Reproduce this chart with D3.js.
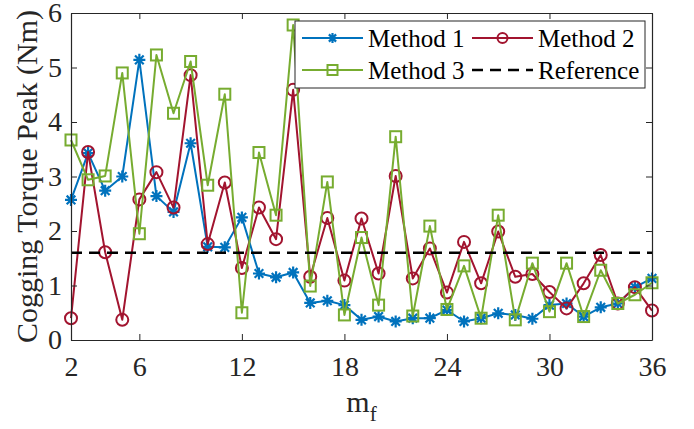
<!DOCTYPE html>
<html>
<head>
<meta charset="utf-8">
<script src="https://cdn.jsdelivr.net/npm/d3@7"></script>
<style>
  html, body { margin: 0; padding: 0; background: #fff; }
  svg { display: block; font-family: "Liberation Serif", "Times New Roman", serif; }
</style>
</head>
<body>
<svg id="chart" width="694" height="429"></svg>
<script>
// Slot/pole combination index
const mf = [2,3,4,5,6,7,8,9,10,11,12,13,14,15,16,17,18,19,20,21,22,23,24,25,26,27,28,29,30,31,32,33,34,35,36];

// Cogging torque peak (Nm) for each method
const method1 = [2.57,3.43,2.74,3.00,5.14,2.64,2.35,3.61,1.71,1.70,2.25,1.22,1.15,1.24,0.68,0.72,0.64,0.37,0.43,0.34,0.40,0.40,0.55,0.34,0.40,0.49,0.46,0.39,0.64,0.67,0.43,0.60,0.67,0.97,1.13];
const method2 = [0.40,3.45,1.61,0.37,2.58,3.08,2.43,4.86,1.76,2.89,1.32,2.43,1.85,4.59,1.16,2.24,1.09,2.23,1.22,3.01,1.13,1.68,0.87,1.80,1.04,1.99,1.16,1.21,0.88,0.58,1.04,1.56,0.67,0.97,0.54];
const method3 = [3.67,2.94,3.01,4.90,1.95,5.23,4.16,5.11,2.84,4.51,0.50,3.44,2.29,5.78,0.99,2.90,0.46,1.88,0.64,3.73,0.44,2.09,0.56,1.36,0.40,2.29,0.37,1.41,0.52,1.41,0.43,1.28,0.67,0.83,1.05];
const referenceLevel = 1.6;

const xTicks = [2,6,12,18,24,30,36];
const yTicks = [0,1,2,3,4,5,6];
const seriesNames = ["Method 1","Method 2","Method 3","Reference"];

const svg = d3.select("#chart");
const L = 71, R = 652, T = 13, B = 340;
const x = d3.scaleLinear().domain([2,36]).range([L,R]);
const y = d3.scaleLinear().domain([0,6]).range([B,T]);

const axisColor = "#262626";
const tickFont = 28;

// series styling
const series = [
  {name: seriesNames[0], values: method1, color: "#0072BD", marker: "star"},
  {name: seriesNames[1], values: method2, color: "#A2142F", marker: "circle"},
  {name: seriesNames[2], values: method3, color: "#77AC30", marker: "square"}
];

function drawMarker(g, type, cx, cy, color, s) {
  if (type === "circle") {
    g.append("circle").attr("cx", cx).attr("cy", cy).attr("r", s)
      .attr("fill", "none").attr("stroke", color).attr("stroke-width", 2);
  } else if (type === "square") {
    g.append("rect").attr("x", cx - s).attr("y", cy - s).attr("width", 2*s).attr("height", 2*s)
      .attr("fill", "none").attr("stroke", color).attr("stroke-width", 2);
  } else {
    const d = s * 0.72;
    const p = `M${cx-s},${cy}L${cx+s},${cy}M${cx},${cy-s}L${cx},${cy+s}` +
              `M${cx-d},${cy-d}L${cx+d},${cy+d}M${cx-d},${cy+d}L${cx+d},${cy-d}`;
    g.append("path").attr("d", p).attr("stroke", color).attr("stroke-width", 2.2).attr("fill", "none");
  }
}

const plot = svg.append("g");
const line = d3.line().x((d,i) => x(mf[i])).y(d => y(d));

series.forEach(s => {
  const g = plot.append("g");
  g.append("path").datum(s.values).attr("d", line)
    .attr("fill", "none").attr("stroke", s.color).attr("stroke-width", 2)
    .attr("stroke-linejoin", "round");
  s.values.forEach((v,i) => drawMarker(g, s.marker, x(mf[i]), y(v), s.color, s.marker === "circle" ? 6 : (s.marker === "star" ? 6 : 5.5)));
});

// reference level
plot.append("line")
  .attr("x1", x(2)).attr("x2", x(36))
  .attr("y1", y(referenceLevel)).attr("y2", y(referenceLevel))
  .attr("stroke", "#000").attr("stroke-width", 2.5)
  .attr("stroke-dasharray", "11,7");

// axes (box with inward ticks on all sides)
const tickLen = 6;
const xAxisB = d3.axisBottom(x).tickValues(xTicks).tickFormat(d3.format("d"))
  .tickSizeInner(-tickLen).tickSizeOuter(0).tickPadding(16);
const xAxisT = d3.axisTop(x).tickValues(xTicks).tickSizeInner(-tickLen).tickSizeOuter(0).tickFormat("");
const yAxisL = d3.axisLeft(y).tickValues(yTicks).tickFormat(d3.format("d"))
  .tickSizeInner(-tickLen).tickSizeOuter(0).tickPadding(9);
const yAxisR = d3.axisRight(y).tickValues(yTicks).tickSizeInner(-tickLen).tickSizeOuter(0).tickFormat("");

function styleAxis(g) {
  g.select(".domain").attr("stroke", axisColor).attr("stroke-width", 1.2);
  g.selectAll(".tick line").attr("stroke", axisColor).attr("stroke-width", 1);
  g.selectAll(".tick text").attr("fill", axisColor)
    .style("font-size", tickFont + "px")
    .style("font-family", "'Liberation Serif','Times New Roman',serif");
}

svg.append("g").attr("transform", `translate(0,${B})`).call(xAxisB).call(styleAxis);
svg.append("g").attr("transform", `translate(0,${T})`).call(xAxisT).call(styleAxis);
svg.append("g").attr("transform", `translate(${L},0)`).call(yAxisL).call(styleAxis);
svg.append("g").attr("transform", `translate(${R},0)`).call(yAxisR).call(styleAxis);

// axis labels
svg.append("text")
  .attr("transform", `translate(37,${(T+B)/2}) rotate(-90)`)
  .attr("text-anchor", "middle")
  .attr("fill", axisColor)
  .style("font-size", "30px")
  .text("Cogging Torque Peak (Nm)");

const xl = svg.append("text")
  .attr("x", (L+R)/2).attr("y", 412)
  .attr("text-anchor", "middle")
  .attr("fill", axisColor)
  .style("font-size", "30px");
xl.append("tspan").text("m");
xl.append("tspan").attr("dy", 9).style("font-size", "21px").text("f");

// legend
const lg = svg.append("g");
lg.append("rect").attr("x", 295).attr("y", 21).attr("width", 350).attr("height", 67)
  .attr("fill", "#fff").attr("stroke", "#262626").attr("stroke-width", 1);

const legendItems = [
  {name: seriesNames[0], color: "#0072BD", marker: "star", lx: 302, ly: 38},
  {name: seriesNames[1], color: "#A2142F", marker: "circle", lx: 472, ly: 38},
  {name: seriesNames[2], color: "#77AC30", marker: "square", lx: 302, ly: 70},
  {name: seriesNames[3], color: "#000", marker: null, lx: 472, ly: 70}
];
legendItems.forEach(it => {
  const g = lg.append("g");
  const ln = g.append("line").attr("x1", it.lx).attr("x2", it.lx + 61)
    .attr("y1", it.ly).attr("y2", it.ly)
    .attr("stroke", it.color).attr("stroke-width", it.marker ? 2 : 2.5);
  if (it.marker) drawMarker(g, it.marker, it.lx + 30.5, it.ly, it.color, 5);
  else ln.attr("stroke-dasharray", "11,7");
  g.append("text").attr("x", it.lx + 66).attr("y", it.ly + 8.5)
    .attr("fill", "#000").style("font-size", "25px").text(it.name);
});
</script>
</body>
</html>
